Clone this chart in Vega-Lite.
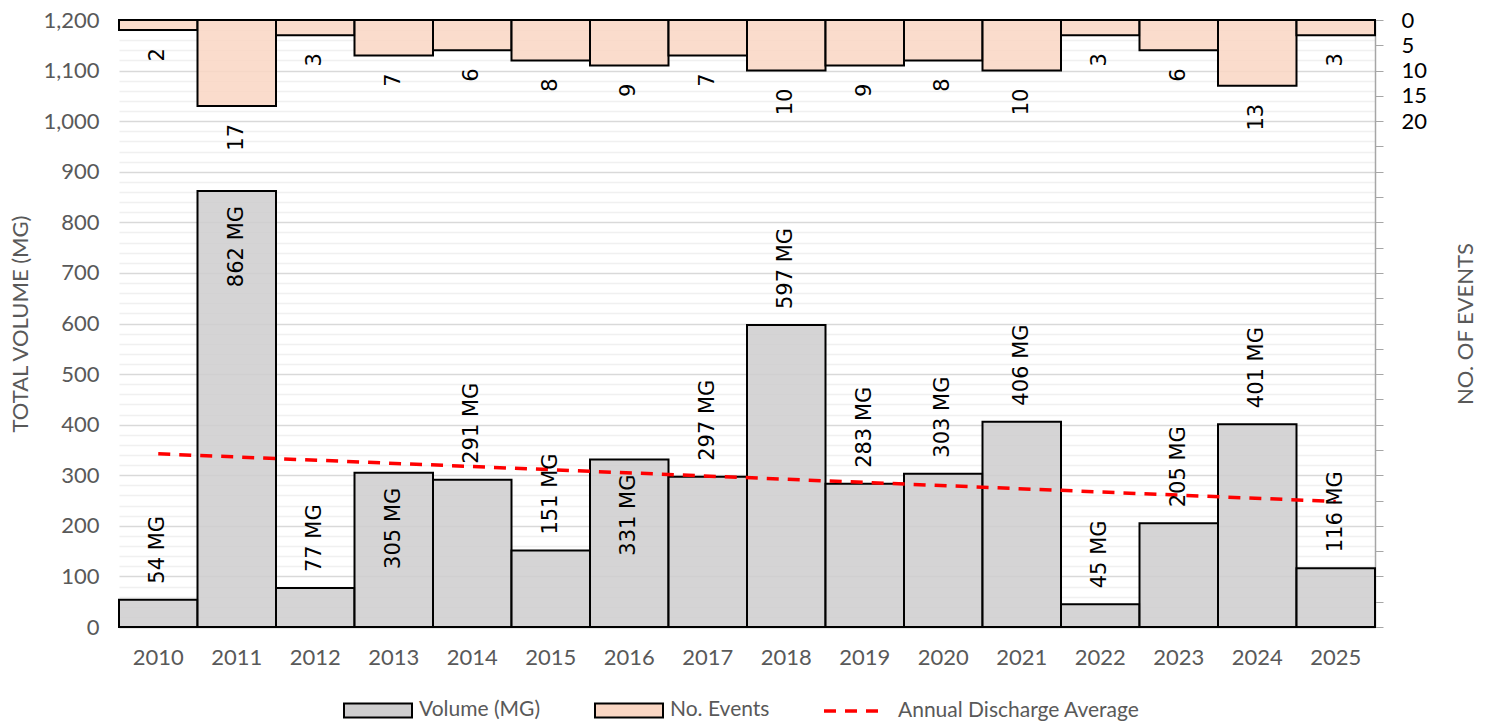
{
  "$schema": "https://vega.github.io/schema/vega-lite/v6.json",
  "width": 1256,
  "height": 607,
  "autosize": {"type": "none"},
  "padding": {"left": 119, "top": 20, "right": 115, "bottom": 94},
  "background": "white",
  "config": {
    "view": {"stroke": null},
    "font": "Lato",
    "axis": {"labelFont": "Lato", "titleFont": "Lato", "titleFontWeight": "normal"}
  },
  "data": {
    "values": [
      {"year": 2010, "volume": 54, "events": 2, "label": "54 MG"},
      {"year": 2011, "volume": 862, "events": 17, "label": "862 MG"},
      {"year": 2012, "volume": 77, "events": 3, "label": "77 MG"},
      {"year": 2013, "volume": 305, "events": 7, "label": "305 MG"},
      {"year": 2014, "volume": 291, "events": 6, "label": "291 MG"},
      {"year": 2015, "volume": 151, "events": 8, "label": "151 MG"},
      {"year": 2016, "volume": 331, "events": 9, "label": "331 MG"},
      {"year": 2017, "volume": 297, "events": 7, "label": "297 MG"},
      {"year": 2018, "volume": 597, "events": 10, "label": "597 MG"},
      {"year": 2019, "volume": 283, "events": 9, "label": "283 MG"},
      {"year": 2020, "volume": 303, "events": 8, "label": "303 MG"},
      {"year": 2021, "volume": 406, "events": 10, "label": "406 MG"},
      {"year": 2022, "volume": 45, "events": 3, "label": "45 MG"},
      {"year": 2023, "volume": 205, "events": 6, "label": "205 MG"},
      {"year": 2024, "volume": 401, "events": 13, "label": "401 MG"},
      {"year": 2025, "volume": 116, "events": 3, "label": "116 MG"}
    ]
  },
  "encoding": {
    "x": {
      "field": "year",
      "type": "ordinal",
      "scale": {"paddingInner": 0, "paddingOuter": 0},
      "axis": {
        "title": null,
        "labelAngle": 0,
        "labelFontSize": 22,
        "labelColor": "#595959",
        "labelPadding": 20,
        "ticks": false,
        "domainColor": "#bfbfbf",
        "domainWidth": 1.5,
        "grid": false
      }
    }
  },
  "layer": [
    {
      "encoding": {
        "y": {
          "field": "events",
          "type": "quantitative",
          "scale": {"domain": [0, 120], "reverse": true, "nice": false},
          "axis": {
            "orient": "right",
            "values": [0,5,10,15,20,25,30,35,40,45,50,55,60,65,70,75,80,85,90,95,100,105,110,115,120],
            "labelExpr": "datum.value <= 20 ? datum.label : ''",
            "labelFontSize": 22,
            "labelColor": "black",
            "labelPadding": 18,
            "labelOverlap": false,
            "ticks": true,
            "tickSize": 8,
            "tickColor": "#a6a6a6",
            "domain": true,
            "domainColor": "#a6a6a6",
            "domainWidth": 1.5,
            "grid": false,
            "title": "NO. OF EVENTS",
            "titleAngle": 270,
            "titleFontSize": 22,
            "titleColor": "#595959",
            "titlePadding": 51
          }
        }
      },
      "layer": [
        {
          "mark": {"type": "bar", "stroke": "black", "strokeWidth": 2, "fillOpacity": 0.85},
          "encoding": {
            "color": {
              "datum": "No. Events",
              "scale": {
                "domain": ["Volume (MG)", "No. Events"],
                "range": ["#cecdce", "#f9d6c3"]
              },
              "legend": {
                "title": null,
                "orient": "none",
                "legendX": 224,
                "legendY": 655,
                "direction": "horizontal",
                "labelFont": "Lato",
                "labelFontSize": 21,
                "labelColor": "#595959",
                "labelOffset": 6,
                "labelLimit": 400,
                "columnPadding": 50,
                "symbolType": "M-1,-0.206H1V0.206H-1Z",
                "symbolSize": 4624,
                "symbolStrokeColor": "black",
                "symbolStrokeWidth": 2,
                "symbolOpacity": 1
              }
            }
          }
        },
        {
          "mark": {"type": "text", "angle": 270, "align": "right", "baseline": "middle", "dx": -18, "font": "DejaVu Sans", "fontSize": 21, "fill": "black"},
          "encoding": {
            "text": {"field": "events", "type": "quantitative"}
          }
        }
      ]
    },
    {
      "encoding": {
        "y": {
          "field": "volume",
          "type": "quantitative",
          "scale": {"domain": [0, 1200], "nice": false},
          "axis": {
            "orient": "left",
            "values": [0,20,40,60,80,100,120,140,160,180,200,220,240,260,280,300,320,340,360,380,400,420,440,460,480,500,520,540,560,580,600,620,640,660,680,700,720,740,760,780,800,820,840,860,880,900,920,940,960,980,1000,1020,1040,1060,1080,1100,1120,1140,1160,1180,1200],
            "labelExpr": "datum.value % 100 === 0 ? format(datum.value, ',') : ''",
            "labelFontSize": 22,
            "labelColor": "#595959",
            "labelPadding": 20,
            "labelOverlap": false,
            "ticks": false,
            "domain": false,
            "grid": true,
            "gridColor": {"condition": {"test": "datum.value % 100 === 0", "value": "#d9d9d9"}, "value": "#f0f0f0"},
            "gridWidth": 1.5,
            "title": "TOTAL VOLUME (MG)",
            "titleFontSize": 22,
            "titleColor": "#595959",
            "titlePadding": 10
          }
        }
      },
      "layer": [
        {
          "mark": {"type": "bar", "stroke": "black", "strokeWidth": 2, "fillOpacity": 0.85},
          "encoding": {
            "color": {
              "datum": "Volume (MG)",
              "legend": {
                "title": null,
                "orient": "none",
                "legendX": 224,
                "legendY": 655,
                "direction": "horizontal",
                "labelFont": "Lato",
                "labelFontSize": 21,
                "labelColor": "#595959",
                "labelOffset": 6,
                "labelLimit": 400,
                "columnPadding": 50,
                "symbolType": "M-1,-0.206H1V0.206H-1Z",
                "symbolSize": 4624,
                "symbolStrokeColor": "black",
                "symbolStrokeWidth": 2,
                "symbolOpacity": 1
              }
            }
          }
        },
        {
          "transform": [{"regression": "volume", "on": "year"}],
          "mark": {"type": "line", "stroke": "#ff0000", "strokeWidth": 3.5},
          "encoding": {
            "strokeDash": {
              "datum": "Annual Discharge Average",
              "scale": {"domain": ["Annual Discharge Average"], "range": [[12, 9]]},
              "legend": {
                "title": null,
                "orient": "none",
                "legendX": 703,
                "legendY": 660,
                "labelFont": "Lato",
                "labelFontSize": 21,
                "labelColor": "#595959",
                "labelOffset": 14,
                "labelLimit": 400,
                "symbolType": "stroke",
                "symbolSize": 3364,
                "symbolStrokeColor": "#ff0000",
                "symbolStrokeWidth": 3.5
              }
            }
          }
        },
        {
          "transform": [{"filter": "indexof([2011, 2013, 2016], datum.year) < 0"}],
          "mark": {"type": "text", "angle": 270, "align": "left", "baseline": "middle", "dx": 16, "font": "DejaVu Sans", "fontSize": 21, "fill": "black"},
          "encoding": {
            "text": {"field": "label", "type": "nominal"}
          }
        },
        {
          "transform": [{"filter": "indexof([2011, 2013, 2016], datum.year) >= 0"}],
          "mark": {"type": "text", "angle": 270, "align": "right", "baseline": "middle", "dx": -15, "font": "DejaVu Sans", "fontSize": 21, "fill": "black"},
          "encoding": {
            "text": {"field": "label", "type": "nominal"}
          }
        }
      ]
    }
  ],
  "resolve": {"scale": {"y": "independent"}}
}
